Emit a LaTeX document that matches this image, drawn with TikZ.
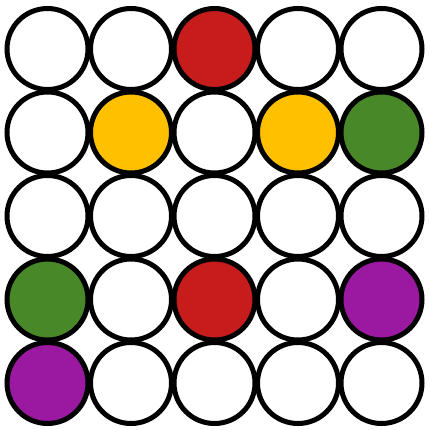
\documentclass[tikz,border=0pt]{standalone}
\definecolor{dred}{RGB}{198,28,28}
\definecolor{dyellow}{RGB}{255,192,0}
\definecolor{dgreen}{RGB}{72,136,40}
\definecolor{dpurple}{RGB}{155,24,160}

\begin{document}
\begin{tikzpicture}[x=1pt,y=-1pt,
  disc/.style={circle, draw, line width=5pt, minimum size=81pt, inner sep=0pt}]
  \useasboundingbox (0,0) rectangle (428,430);
  \foreach \col [count=\n from 0] in {white,white,dred,white,white,
      white,dyellow,white,dyellow,dgreen,
      white,white,white,white,white,
      dgreen,white,dred,white,dpurple,
      dpurple,white,white,white,white} {
    \pgfmathtruncatemacro\r{div(\n,5)}
    \pgfmathtruncatemacro\k{mod(\n,5)}
    \node[disc, fill=\col] (c\r\k) at ({47.5+83.5*\k},{49+83.5*\r}) {};
  }
\end{tikzpicture}
\end{document}
